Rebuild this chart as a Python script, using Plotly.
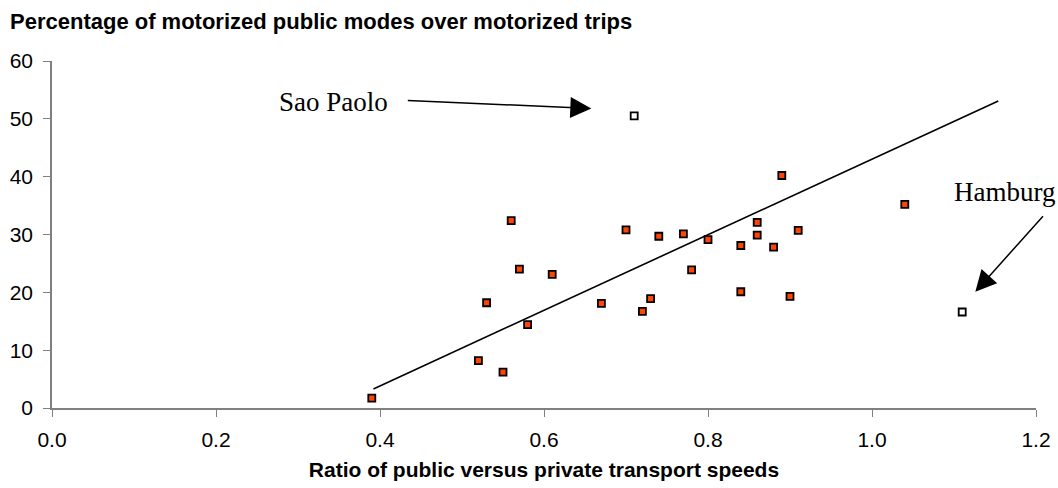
import plotly.graph_objects as go

# Data
speed_ratio = [0.39, 0.52, 0.53, 0.55, 0.56, 0.57, 0.58, 0.61, 0.67, 0.70, 0.72, 0.73,
               0.74, 0.77, 0.78, 0.80, 0.84, 0.84, 0.86, 0.86, 0.88, 0.89, 0.90, 0.91, 1.04]
public_share = [1.7, 8.2, 18.2, 6.2, 32.4, 24.0, 14.4, 23.1, 18.1, 30.8, 16.7, 18.9,
                29.7, 30.1, 23.9, 29.1, 28.1, 20.1, 32.1, 29.9, 27.8, 40.2, 19.3, 30.7, 35.2]

outlier_names = ["Sao Paolo", "Hamburg"]
outlier_ratio = [0.71, 1.11]
outlier_share = [50.5, 16.6]

trend_x = [0.392, 1.154]
trend_y = [3.3, 53.1]

x_ticks = [0.0, 0.2, 0.4, 0.6, 0.8, 1.0, 1.2]
x_tick_labels = ["0.0", "0.2", "0.4", "0.6", "0.8", "1.0", "1.2"]
y_ticks = [0, 10, 20, 30, 40, 50, 60]

title_text = "Percentage of motorized public modes over motorized trips"
x_title = "Ratio of public versus private transport speeds"

fig = go.Figure()

fig.add_trace(go.Scatter(
    x=trend_x, y=trend_y, mode="lines",
    line=dict(color="black", width=1.6), hoverinfo="skip", showlegend=False))

fig.add_trace(go.Scatter(
    x=speed_ratio, y=public_share, mode="markers",
    marker=dict(symbol="square", size=7, color="#FF4500",
                line=dict(color="black", width=1.8)),
    showlegend=False))

fig.add_trace(go.Scatter(
    x=outlier_ratio, y=outlier_share, mode="markers", text=outlier_names,
    marker=dict(symbol="square", size=7, color="white",
                line=dict(color="black", width=1.8)),
    showlegend=False))

axis_col = "#808080"
sans = "Liberation Sans, Arial, sans-serif"
serif = "Liberation Serif, Times New Roman, serif"

fig.update_xaxes(
    range=[0, 1.2], tickvals=x_ticks, ticktext=x_tick_labels, automargin=False,
    showgrid=False, zeroline=False, showline=True, linecolor=axis_col, linewidth=1.5,
    ticks="outside", ticklen=7, tickcolor=axis_col, tickwidth=1.2,
    ticklabelstandoff=5,
    tickfont=dict(family=sans, size=21, color="black"),
    title=dict(text="<b>" + x_title + "</b>", font=dict(family=sans, size=21, color="black"),
               standoff=12))
fig.update_yaxes(
    range=[0, 60], tickvals=y_ticks, automargin=False,
    showgrid=False, zeroline=False, showline=True, linecolor=axis_col, linewidth=1.5,
    ticks="outside", ticklen=7, tickcolor=axis_col, tickwidth=1.2,
    ticklabelstandoff=6,
    tickfont=dict(family=sans, size=21, color="black"))

fig.update_layout(
    width=1058, height=488,
    margin=dict(l=52, r=22, t=61, b=80, autoexpand=False),
    plot_bgcolor="white", paper_bgcolor="white",
    title=dict(text="<b>" + title_text + "</b>", xref="container", x=10 / 1058, xanchor="left",
               yref="container", y=1 - 21 / 488, yanchor="middle",
               font=dict(family=sans, size=22, color="black")),
    annotations=[
        dict(x=0.343, y=52.9, xref="x", yref="y", text="Sao Paolo", showarrow=False,
             font=dict(family=serif, size=27, color="black")),
        dict(x=1.162, y=37.3, xref="x", yref="y", text="Hamburg", showarrow=False,
             font=dict(family=serif, size=27, color="black")),
        dict(x=0.6577, y=51.8, xref="x", yref="y", text="", showarrow=True,
             ax=-185, ay=-8, arrowhead=2, arrowsize=2.8, arrowwidth=1.5, arrowcolor="black"),
        dict(x=1.126, y=20.1, xref="x", yref="y", text="", showarrow=True,
             ax=69, ay=-77, arrowhead=2, arrowsize=2.8, arrowwidth=1.5, arrowcolor="black"),
    ],
)

fig.write_html("out.html", config={"displayModeBar": False},
               post_script="document.body.style.margin='0';document.body.style.padding='0';")
